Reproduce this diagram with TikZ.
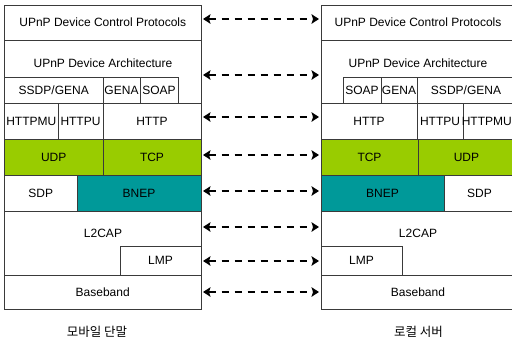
\documentclass[tikz,border=0pt]{standalone}
\usepackage{fontspec}
\setmainfont{Liberation Sans}
\newfontfamily\krfont{Noto Sans CJK KR}
\usetikzlibrary{arrows.meta}
\definecolor{lgreen}{HTML}{99CC00}
\definecolor{lteal}{HTML}{009999}
\definecolor{edgec}{HTML}{3A3A3A}
\newcommand\lay[7][white]{\node[layer,fill=#1,minimum width={(#5-#3)*1pt},minimum height={(#6-#4)*1pt}] (#2) at ({(#3+#5)/2},{(#4+#6)/2}) {#7};}
\newcommand\link[4]{\coordinate (row#4) at (0,#3);
  \draw[arr] ([xshift=2pt]#1.east |- row#4) -- ([xshift=-2pt]#2.west |- row#4);}
\begin{document}
\begin{tikzpicture}[x=1pt,y=-1pt,
  layer/.style={draw=edgec,line width=0.9pt,inner sep=0pt,outer sep=0pt,font=\fontsize{12}{14}\selectfont},
  lbl/.style={inner sep=0pt,font=\fontsize{12}{14}\selectfont},
  captext/.style={inner sep=0pt,font=\krfont\fontsize{12.5}{15}\selectfont},
  arr/.style={line width=2.8pt,dash pattern=on 7pt off 6pt,
    {Stealth[length=7.5pt,width=9.5pt,inset=1.5pt]}-{Stealth[length=7.5pt,width=9.5pt,inset=1.5pt]}}]
\useasboundingbox[fill=white] (0,0) rectangle (512,343);
\begin{scope}
\clip (0,0) rectangle (512,343);
% left stack
\lay{ctlL}{4.5}{5}{201}{40}{UPnP Device Control Protocols}
\lay{archL}{4.5}{40}{201}{103}{}
\node[lbl] (archtL) at (103,63) {UPnP Device Architecture};
\lay{ssdpL}{4.5}{77}{103}{103}{SSDP/GENA}
\lay{genaL}{103}{77}{140}{103}{GENA}
\lay{soapL}{140}{77}{178}{103}{SOAP}
\lay{httpmuL}{4.5}{103}{58}{139}{HTTPMU}
\lay{httpuL}{58}{103}{103}{139}{HTTPU}
\lay{httpL}{103}{103}{201}{139}{HTTP}
\lay[lgreen]{udpL}{4.5}{139}{103}{175}{UDP}
\lay[lgreen]{tcpL}{103}{139}{201}{175}{TCP}
\lay{sdpL}{4.5}{175}{77}{211}{SDP}
\lay[lteal]{bnepL}{77}{175}{201}{211}{BNEP}
\lay{l2capL}{4.5}{211}{201}{275}{}
\node[lbl] (l2captL) at (103,233) {L2CAP};
\lay{lmpL}{120}{246}{201}{275}{LMP}
\lay{bbL}{4.5}{275}{201}{309}{Baseband}
% right stack
\lay{ctlR}{321}{5}{515}{40}{UPnP Device Control Protocols}
\lay{archR}{321}{40}{515}{103}{}
\node[lbl] (archtR) at (418,63) {UPnP Device Architecture};
\lay{soapR}{343}{77}{381}{103}{SOAP}
\lay{genaR}{381}{77}{417}{103}{GENA}
\lay{ssdpR}{417}{77}{515}{103}{SSDP/GENA}
\lay{httpR}{321}{103}{417}{139}{HTTP}
\lay{httpuR}{417}{103}{463}{139}{HTTPU}
\lay{httpmuR}{463}{103}{515}{139}{\hspace*{-4.5pt}HTTPMU}
\lay[lgreen]{tcpR}{321}{139}{418}{175}{TCP}
\lay[lgreen]{udpR}{418}{139}{515}{175}{UDP}
\lay[lteal]{bnepR}{321}{175}{444}{211}{BNEP}
\lay{sdpR}{444}{175}{515}{211}{SDP}
\lay{l2capR}{321}{211}{515}{275}{}
\node[lbl] (l2captR) at (418,233) {L2CAP};
\lay{lmpR}{321}{246}{402}{275}{LMP}
\lay{bbR}{321}{275}{515}{309}{Baseband}
\end{scope}
% captions
\node[captext] (capL) at (97,332) {모바일 단말};
\node[captext] (capR) at (418.5,332) {로컬 서버};
% peer arrows
\link{ctlL}{ctlR}{19}{a}
\link{archL}{archR}{75}{b}
\link{httpL}{httpR}{117}{c}
\link{tcpL}{tcpR}{155}{d}
\link{bnepL}{bnepR}{191}{e}
\link{l2capL}{l2capR}{227}{f}
\link{lmpL}{lmpR}{261}{g}
\link{bbL}{bbR}{292}{h}
\end{tikzpicture}
\end{document}
